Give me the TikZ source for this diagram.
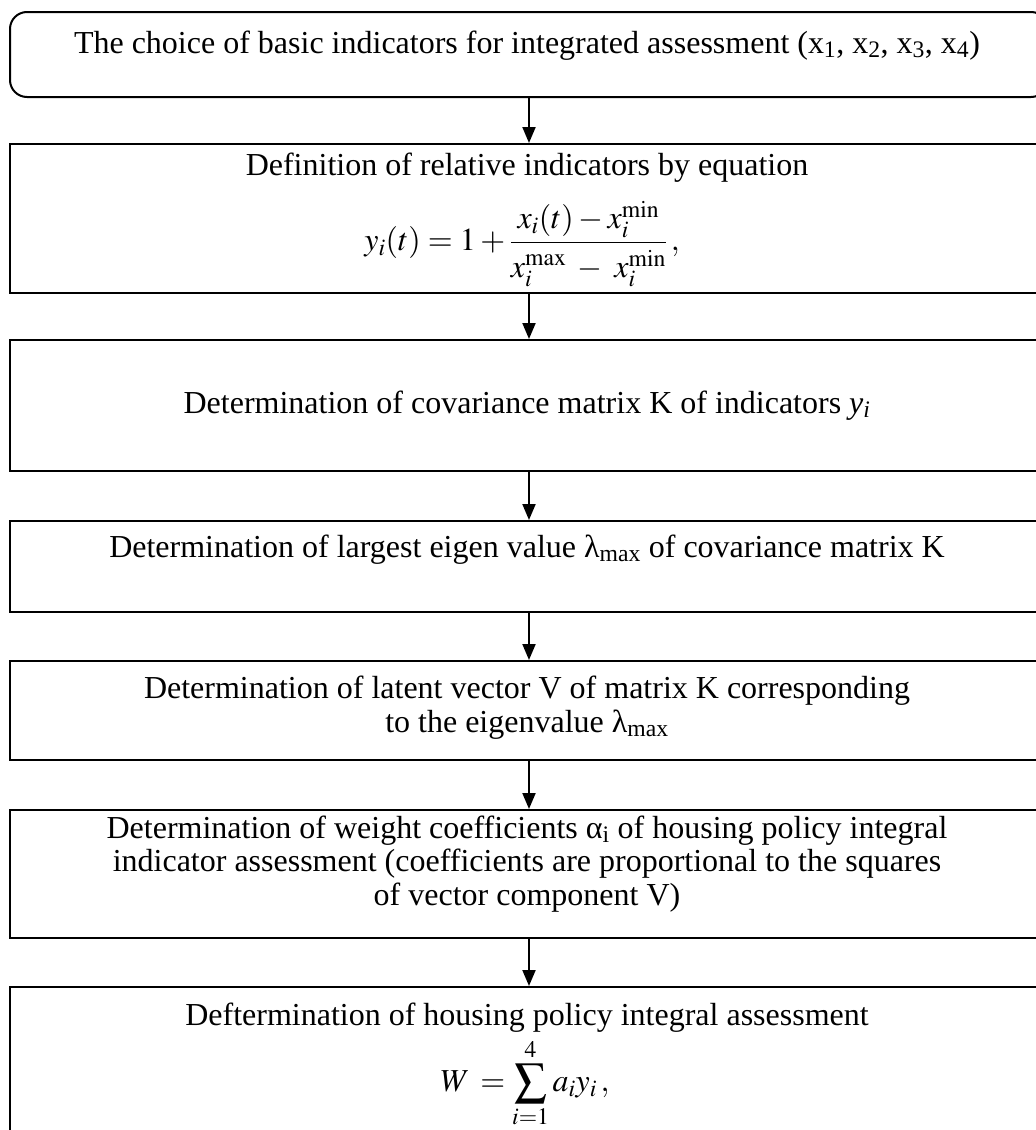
\documentclass[tikz,border=0pt]{standalone}
\usepackage{mathptmx}
\usepackage{fontspec}
\setmainfont{Liberation Serif}
\usetikzlibrary{arrows.meta}
\begin{document}
\begin{tikzpicture}[x=1pt,y=-1pt,
  box/.style={draw, line width=2pt, rectangle, inner sep=0pt, minimum width=1038pt},
  txt/.style={anchor=base, align=center, inner sep=0pt, font=\fontsize{32}{33.5}\selectfont},
  frm/.style={anchor=center, inner sep=0pt, font=\fontsize{32}{36}\selectfont},
  arr/.style={line width=2pt, -{Triangle[length=16pt,width=13pt]}}]
\useasboundingbox (0,0) rectangle (1036,1130);
\clip (0,0) rectangle (1036,1130);
\fill[white] (0,0) rectangle (1036,1130);
% boxes
\node[box, rounded corners=17pt, minimum height=85pt] (b1) at (529,54.5) {};
\node[box, minimum height=149pt] (b2) at (529,218.5) {};
\node[box, minimum height=131pt] (b3) at (529,405.5) {};
\node[box, minimum height=91pt] (b4) at (529,566.5) {};
\node[box, minimum height=99pt] (b5) at (529,710.5) {};
\node[box, minimum height=128pt] (b6) at (529,874) {};
\node[box, minimum height=170pt] (b7) at (529,1072) {};
% texts
\node[txt] (t1) at (527,53) {The choice of basic indicators for integrated assessment (x\textsubscript{1}, x\textsubscript{2}, x\textsubscript{3}, x\textsubscript{4})};
\node[txt] (t2) at (527,175) {Definition of relative indicators by equation};
\node[frm] (f2) at (522,244) {$\displaystyle y_i(t) = 1 + \frac{x_i(t) - x_i^{\mathrm{min}}\rule[-6pt]{0pt}{0pt}}{\rule{0pt}{30pt}x_i^{\mathrm{max}} \;-\; x_i^{\mathrm{min}}}\,,$};
\node[txt] (t3) at (527,413) {Determination of covariance matrix K of indicators \textit{y\textsubscript{i}}};
\node[txt] (t4) at (527,557) {Determination of largest eigen value λ\textsubscript{max} of covariance matrix K};
\node[txt] (t5) at (527,732) {Determination of latent vector V of matrix K corresponding\\to the eigenvalue λ\textsubscript{max}};
\node[txt] (t6) at (527,905) {Determination of weight coefficients α\textsubscript{i} of housing policy integral\\indicator assessment (coefficients are proportional to the squares\\of vector component V)};
\node[txt] (t7) at (527,1025) {Deftermination of housing policy integral assessment};
\node[frm] (f7) at (525,1083) {$\displaystyle W\, = \sum_{i=1}^{4} a_i y_i\,,$};
% arrows
\draw[arr] (b1.south) -- (b2.north);
\draw[arr] (b2.south) -- (b3.north);
\draw[arr] (b3.south) -- (b4.north);
\draw[arr] (b4.south) -- (b5.north);
\draw[arr] (b5.south) -- (b6.north);
\draw[arr] (b6.south) -- (b7.north);
\end{tikzpicture}
\end{document}
